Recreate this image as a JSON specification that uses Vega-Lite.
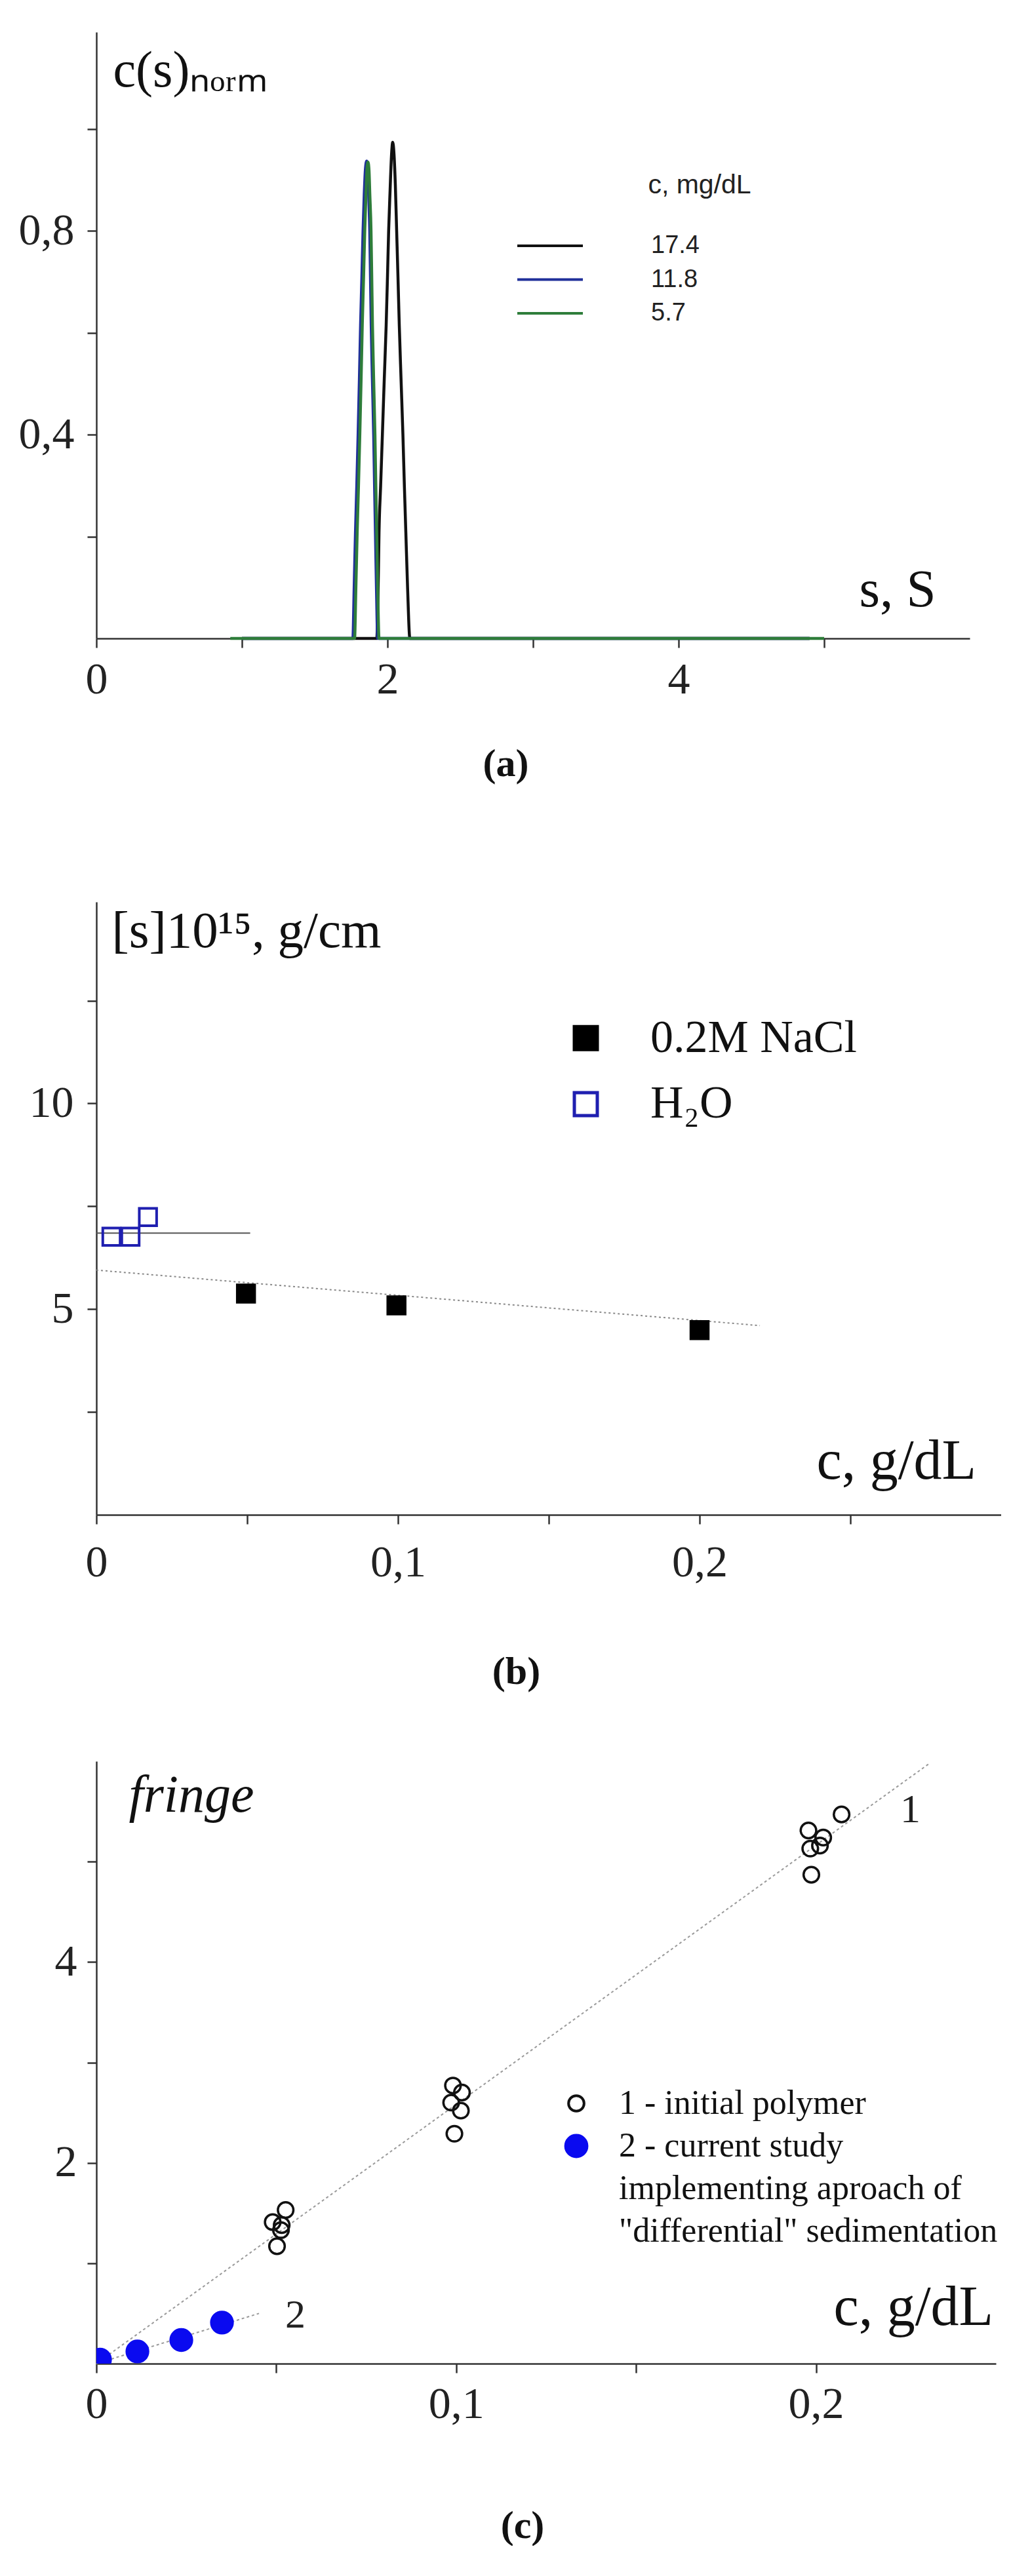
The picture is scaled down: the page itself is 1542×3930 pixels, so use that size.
{
  "$schema": "https://vega.github.io/schema/vega-lite/v6.json",
  "background": "white",
  "padding": {"left": 0, "top": 49, "right": 0, "bottom": 0},
  "spacing": 180,
  "align": "none",
  "resolve": {"scale": {"color": "independent", "fill": "independent", "stroke": "independent", "size": "independent"}, "legend": {"color": "independent", "fill": "independent", "stroke": "independent", "size": "independent"}},
  "config": {
    "view": {"stroke": null},
    "font": "Liberation Serif",
    "style": {"guide-label": {"lineHeight": 65}},
    "axis": {
      "grid": false,
      "domainColor": "#333333",
      "domainWidth": 2.5,
      "tickColor": "#333333",
      "tickWidth": 2.5,
      "tickSize": 14,
      "labelFont": "Liberation Serif",
      "labelFontSize": 68,
      "labelColor": "#222222",
      "labelFlush": false,
      "labelOverlap": false,
      "labelBound": false,
      "titleFont": "Liberation Serif",
      "titleFontWeight": "normal",
      "titleColor": "#111111",
      "titleAngle": 0,
      "titleAlign": "left",
      "titleBaseline": "alphabetic"
    },
    "legend": {"padding": 0, "labelFont": "Liberation Serif", "labelColor": "#111111", "titleFontWeight": "normal", "labelLimit": 2000, "titleLimit": 2000},
    "title": {"font": "Liberation Serif", "fontSize": 60, "fontWeight": "bold", "color": "#111111", "orient": "bottom", "anchor": "middle", "frame": "bounds", "baseline": "top"}
  },
  "vconcat": [
    {
      "width": 1332,
      "height": 925,
      "title": {"text": "(a)", "offset": 66, "dx": 32},
      "data": {"values": [
        {"series": "17.4", "s": 1.0, "v": 0},
        {"series": "17.4", "s": 1.9, "v": 0},
        {"series": "17.4", "s": 1.926, "v": 0},
        {"series": "17.4", "s": 1.935, "v": 0.08},
        {"series": "17.4", "s": 1.942, "v": 0.209},
        {"series": "17.4", "s": 1.953, "v": 0.3},
        {"series": "17.4", "s": 1.965, "v": 0.4},
        {"series": "17.4", "s": 1.978, "v": 0.51},
        {"series": "17.4", "s": 1.991, "v": 0.615},
        {"series": "17.4", "s": 2.0, "v": 0.71},
        {"series": "17.4", "s": 2.008, "v": 0.8},
        {"series": "17.4", "s": 2.018, "v": 0.88},
        {"series": "17.4", "s": 2.027, "v": 0.945},
        {"series": "17.4", "s": 2.036, "v": 0.974},
        {"series": "17.4", "s": 2.045, "v": 0.95},
        {"series": "17.4", "s": 2.054, "v": 0.89},
        {"series": "17.4", "s": 2.063, "v": 0.8},
        {"series": "17.4", "s": 2.072, "v": 0.71},
        {"series": "17.4", "s": 2.081, "v": 0.615},
        {"series": "17.4", "s": 2.093, "v": 0.51},
        {"series": "17.4", "s": 2.106, "v": 0.4},
        {"series": "17.4", "s": 2.116, "v": 0.3},
        {"series": "17.4", "s": 2.126, "v": 0.209},
        {"series": "17.4", "s": 2.138, "v": 0.1},
        {"series": "17.4", "s": 2.154, "v": 0},
        {"series": "17.4", "s": 2.2, "v": 0},
        {"series": "17.4", "s": 4.9, "v": 0},
        {"series": "11.8", "s": 1.0, "v": 0},
        {"series": "11.8", "s": 1.74, "v": 0},
        {"series": "11.8", "s": 1.762, "v": 0},
        {"series": "11.8", "s": 1.771, "v": 0.1},
        {"series": "11.8", "s": 1.78, "v": 0.209},
        {"series": "11.8", "s": 1.789, "v": 0.3},
        {"series": "11.8", "s": 1.798, "v": 0.4},
        {"series": "11.8", "s": 1.807, "v": 0.51},
        {"series": "11.8", "s": 1.815, "v": 0.615},
        {"series": "11.8", "s": 1.824, "v": 0.71},
        {"series": "11.8", "s": 1.832, "v": 0.8},
        {"series": "11.8", "s": 1.84, "v": 0.87},
        {"series": "11.8", "s": 1.848, "v": 0.92},
        {"series": "11.8", "s": 1.857, "v": 0.937},
        {"series": "11.8", "s": 1.866, "v": 0.92},
        {"series": "11.8", "s": 1.871, "v": 0.87},
        {"series": "11.8", "s": 1.878, "v": 0.8},
        {"series": "11.8", "s": 1.883, "v": 0.71},
        {"series": "11.8", "s": 1.888, "v": 0.615},
        {"series": "11.8", "s": 1.896, "v": 0.51},
        {"series": "11.8", "s": 1.905, "v": 0.4},
        {"series": "11.8", "s": 1.911, "v": 0.3},
        {"series": "11.8", "s": 1.917, "v": 0.209},
        {"series": "11.8", "s": 1.924, "v": 0.1},
        {"series": "11.8", "s": 1.933, "v": 0},
        {"series": "11.8", "s": 1.96, "v": 0},
        {"series": "11.8", "s": 4.9, "v": 0},
        {"series": "5.7", "s": 0.92, "v": 0},
        {"series": "5.7", "s": 1.75, "v": 0},
        {"series": "5.7", "s": 1.774, "v": 0},
        {"series": "5.7", "s": 1.783, "v": 0.1},
        {"series": "5.7", "s": 1.792, "v": 0.209},
        {"series": "5.7", "s": 1.801, "v": 0.3},
        {"series": "5.7", "s": 1.81, "v": 0.4},
        {"series": "5.7", "s": 1.819, "v": 0.51},
        {"series": "5.7", "s": 1.827, "v": 0.615},
        {"series": "5.7", "s": 1.836, "v": 0.71},
        {"series": "5.7", "s": 1.844, "v": 0.8},
        {"series": "5.7", "s": 1.852, "v": 0.87},
        {"series": "5.7", "s": 1.859, "v": 0.92},
        {"series": "5.7", "s": 1.866, "v": 0.935},
        {"series": "5.7", "s": 1.873, "v": 0.92},
        {"series": "5.7", "s": 1.879, "v": 0.87},
        {"series": "5.7", "s": 1.887, "v": 0.8},
        {"series": "5.7", "s": 1.892, "v": 0.71},
        {"series": "5.7", "s": 1.897, "v": 0.615},
        {"series": "5.7", "s": 1.905, "v": 0.51},
        {"series": "5.7", "s": 1.914, "v": 0.4},
        {"series": "5.7", "s": 1.92, "v": 0.3},
        {"series": "5.7", "s": 1.926, "v": 0.209},
        {"series": "5.7", "s": 1.933, "v": 0.1},
        {"series": "5.7", "s": 1.942, "v": 0},
        {"series": "5.7", "s": 1.97, "v": 0},
        {"series": "5.7", "s": 5.0, "v": 0}
      ]},
      "encoding": {
        "x": {"field": "s", "type": "quantitative",
          "scale": {"domain": [0, 6], "nice": false, "zero": false},
          "axis": {"values": [0, 1, 2, 3, 4, 5], "labelExpr": "datum.value % 2 == 0 ? datum.label : ''",
            "labelPadding": 15, "title": "s, S", "titleFontSize": 81, "titleX": 1163, "titleY": -50}},
        "y": {"field": "v", "type": "quantitative",
          "scale": {"domain": [0, 1.19], "nice": false, "zero": false},
          "axis": {"values": [0.2, 0.4, 0.6, 0.8, 1.0], "format": ".1f",
            "labelExpr": "datum.value == 0.4 || datum.value == 0.8 ? replace(datum.label, '.', ',') : ''",
            "labelPadding": 20, "minExtent": 147, "title": "c(s)ₙₒᵣₘ", "titleFontSize": 78, "titleX": 25, "titleY": 82}},
        "color": {"field": "series", "type": "nominal",
          "scale": {"domain": ["17.4", "11.8", "5.7"], "range": ["#111111", "#1f2f9a", "#2e7d3a"]},
          "legend": {"orient": "none", "legendX": 673, "legendY": 214, "title": "c, mg/dL",
            "titleFont": "Liberation Sans", "titleFontSize": 41, "titleColor": "#222222", "titleAnchor": "end", "titleAlign": "center", "titlePadding": 52,
            "labelFont": "Liberation Sans", "labelFontSize": 38, "labelColor": "#222222", "labelOffset": 135,
            "symbolType": "M-5,0H5", "symbolSize": 400, "symbolStrokeWidth": 4, "rowPadding": 13.5}}
      },
      "layer": [
        {"transform": [{"filter": {"field": "series", "equal": "17.4"}}], "mark": {"type": "line", "strokeWidth": 4.5, "interpolate": "monotone"}, "encoding": {}},
        {"transform": [{"filter": {"field": "series", "equal": "11.8"}}], "mark": {"type": "line", "strokeWidth": 4.5, "interpolate": "monotone"}, "encoding": {}},
        {"transform": [{"filter": {"field": "series", "equal": "5.7"}}], "mark": {"type": "line", "strokeWidth": 4.5, "interpolate": "monotone"}, "encoding": {}}
      ]
    },
    {
      "align": "none",
      "spacing": 106,
      "resolve": {"scale": {"color": "independent", "fill": "independent", "stroke": "independent", "size": "independent"}, "legend": {"color": "independent", "fill": "independent", "stroke": "independent", "size": "independent"}},
      "vconcat": [
        {
          "width": 1380,
          "height": 935,
          "title": {"text": "(b)", "offset": 104, "dx": 16},
          "encoding": {
            "x": {"field": "c", "type": "quantitative",
              "scale": {"domain": [0, 0.3], "nice": false, "zero": false},
              "axis": {"values": [0, 0.05, 0.1, 0.15, 0.2, 0.25],
                "labelExpr": "datum.value == 0 || datum.value == 0.1 || datum.value == 0.2 ? replace(format(datum.value, '~g'), '.', ',') : ''",
                "labelPadding": 25, "title": "c, g/dL", "titleFontSize": 86, "titleX": 1098, "titleY": -56}},
            "y": {"field": "v", "type": "quantitative",
              "scale": {"domain": [0, 14.9], "nice": false, "zero": false},
              "axis": {"values": [2.5, 5, 7.5, 10, 12.5],
                "labelExpr": "datum.value == 5 || datum.value == 10 ? format(datum.value, 'd') : ''",
                "labelPadding": 21, "minExtent": 131, "title": "[s]10¹⁵, g/cm", "titleFontSize": 79, "titleX": 23, "titleY": 68}}
          },
          "layer": [
            {
              "data": {"values": [{"c": 0, "v": 6.85}, {"c": 0.051, "v": 6.85}]},
              "mark": {"type": "line", "color": "#555555", "strokeWidth": 2},
              "encoding": {}
            },
            {
              "data": {"values": [{"c": 0, "v": 5.95}, {"c": 0.22, "v": 4.6}]},
              "mark": {"type": "line", "color": "#8a8a8a", "strokeWidth": 2, "strokeDash": [3, 4]},
              "encoding": {}
            },
            {
              "data": {"values": [
                {"series": "0.2M NaCl", "c": 0.0496, "v": 5.38},
                {"series": "0.2M NaCl", "c": 0.0995, "v": 5.09},
                {"series": "0.2M NaCl", "c": 0.2, "v": 4.49},
                {"series": "H₂O", "c": 0.005, "v": 6.76},
                {"series": "H₂O", "c": 0.0113, "v": 6.76},
                {"series": "H₂O", "c": 0.0171, "v": 7.24}
              ]},
              "mark": {"type": "point", "shape": "square", "size": 700, "strokeWidth": 4, "opacity": 1},
              "encoding": {
                "fill": {"field": "series", "type": "nominal",
                  "scale": {"domain": ["0.2M NaCl", "H₂O"], "range": ["#000000", "transparent"]},
                  "legend": {"orient": "none", "legendX": 711.5, "legendY": 172.7, "title": null, "labelFontSize": 70, "labelOffset": 63.5, "rowPadding": 30.7, "symbolSize": 1225, "symbolStrokeWidth": 5, "symbolType": "square"}},
                "stroke": {"field": "series", "type": "nominal",
                  "scale": {"domain": ["0.2M NaCl", "H₂O"], "range": ["#000000", "#1f1fb0"]},
                  "legend": {"orient": "none", "legendX": 711.5, "legendY": 172.7, "title": null, "labelFontSize": 70, "labelOffset": 63.5, "rowPadding": 30.7, "symbolSize": 1225, "symbolStrokeWidth": 5, "symbolType": "square"}}
              }
            }
          ]
        },
        {
          "width": 1372,
          "height": 919,
          "title": {"text": "(c)", "offset": 123, "dx": 24},
          "layer": [
            {
              "data": {"values": [{"c": 0, "v": 0}, {"c": 0.2312, "v": 5.97}]},
              "mark": {"type": "line", "color": "#9a9a9a", "strokeWidth": 2, "strokeDash": [4, 4]},
              "encoding": {
                "x": {"field": "c", "type": "quantitative",
                  "scale": {"domain": [0, 0.25], "nice": false, "zero": false},
                  "axis": {"values": [0, 0.05, 0.1, 0.15, 0.2],
                    "labelExpr": "datum.value == 0 || datum.value == 0.1 || datum.value == 0.2 ? replace(format(datum.value, '~g'), '.', ',') : ''",
                    "labelPadding": 14, "title": "c, g/dL", "titleFontSize": 86, "titleX": 1124, "titleY": -60}},
                "y": {"field": "v", "type": "quantitative",
                  "scale": {"domain": [0, 6], "nice": false, "zero": false},
                  "axis": {"values": [1, 2, 3, 4, 5],
                    "labelExpr": "datum.value == 2 || datum.value == 4 ? format(datum.value, 'd') : ''",
                    "labelPadding": 16, "minExtent": 123, "title": "fringe", "titleFontStyle": "italic", "titleFontSize": 80, "titleX": 49, "titleY": 76}}
              }
            },
            {
              "data": {"values": [{"c": 0, "v": 0}, {"c": 0.0452, "v": 0.5}]},
              "mark": {"type": "line", "color": "#9a9a9a", "strokeWidth": 2, "strokeDash": [4, 4]},
              "encoding": {
                "x": {"field": "c", "type": "quantitative", "scale": {"domain": [0, 0.25], "nice": false, "zero": false}},
                "y": {"field": "v", "type": "quantitative", "scale": {"domain": [0, 6], "nice": false, "zero": false}}
              }
            },
            {
              "data": {"values": [{"label": "1"}]},
              "mark": {"type": "text", "font": "Liberation Serif", "fontSize": 62, "fill": "#222222", "baseline": "middle", "align": "center"},
              "encoding": {
                "x": {"datum": 0.2262, "type": "quantitative", "scale": {"domain": [0, 0.25], "nice": false, "zero": false}},
                "y": {"datum": 5.52, "type": "quantitative", "scale": {"domain": [0, 6], "nice": false, "zero": false}},
                "text": {"field": "label", "type": "nominal"}
              }
            },
            {
              "data": {"values": [{"label": "2"}]},
              "mark": {"type": "text", "font": "Liberation Serif", "fontSize": 62, "fill": "#222222", "baseline": "middle", "align": "center"},
              "encoding": {
                "x": {"datum": 0.0553, "type": "quantitative", "scale": {"domain": [0, 0.25], "nice": false, "zero": false}},
                "y": {"datum": 0.48, "type": "quantitative", "scale": {"domain": [0, 6], "nice": false, "zero": false}},
                "text": {"field": "label", "type": "nominal"}
              }
            },
            {
              "data": {"values": [
                {"series": "1 - initial polymer", "c": 0.0526, "v": 1.53},
                {"series": "1 - initial polymer", "c": 0.049, "v": 1.41},
                {"series": "1 - initial polymer", "c": 0.0515, "v": 1.38},
                {"series": "1 - initial polymer", "c": 0.0513, "v": 1.33},
                {"series": "1 - initial polymer", "c": 0.0502, "v": 1.17},
                {"series": "1 - initial polymer", "c": 0.0991, "v": 2.77},
                {"series": "1 - initial polymer", "c": 0.1016, "v": 2.7},
                {"series": "1 - initial polymer", "c": 0.0986, "v": 2.6},
                {"series": "1 - initial polymer", "c": 0.1013, "v": 2.52},
                {"series": "1 - initial polymer", "c": 0.0995, "v": 2.29},
                {"series": "1 - initial polymer", "c": 0.2071, "v": 5.47},
                {"series": "1 - initial polymer", "c": 0.1979, "v": 5.31},
                {"series": "1 - initial polymer", "c": 0.202, "v": 5.24},
                {"series": "1 - initial polymer", "c": 0.2011, "v": 5.16},
                {"series": "1 - initial polymer", "c": 0.1984, "v": 5.13},
                {"series": "1 - initial polymer", "c": 0.1987, "v": 4.87},
                {"series": "2 - current study", "c": 0.001, "v": 0.04},
                {"series": "2 - current study", "c": 0.0114, "v": 0.121},
                {"series": "2 - current study", "c": 0.0236, "v": 0.235},
                {"series": "2 - current study", "c": 0.0349, "v": 0.409}
              ]},
              "mark": {"type": "point", "shape": "circle", "strokeWidth": 3.5, "opacity": 1, "clip": true},
              "encoding": {
                "x": {"field": "c", "type": "quantitative", "scale": {"domain": [0, 0.25], "nice": false, "zero": false}},
                "y": {"field": "v", "type": "quantitative", "scale": {"domain": [0, 6], "nice": false, "zero": false}},
                "fill": {"field": "series", "type": "nominal",
                  "scale": {"domain": ["1 - initial polymer", "2 - current study"], "range": ["transparent", "#0a0af0"]},
                  "legend": {"orient": "none", "legendX": 706, "legendY": 496, "title": null, "labelFontSize": 52, "labelOffset": 39, "rowPadding": 13, "symbolStrokeWidth": 4,
                    "labelExpr": "datum.label == '2 - current study' ? ['2 - current study', 'implementing aproach of', '\"differential\" sedimentation'] : datum.label"}},
                "stroke": {"field": "series", "type": "nominal",
                  "scale": {"domain": ["1 - initial polymer", "2 - current study"], "range": ["#111111", "#0a0af0"]},
                  "legend": {"orient": "none", "legendX": 706, "legendY": 496, "title": null, "labelFontSize": 52, "labelOffset": 39, "rowPadding": 13, "symbolStrokeWidth": 4,
                    "labelExpr": "datum.label == '2 - current study' ? ['2 - current study', 'implementing aproach of', '\"differential\" sedimentation'] : datum.label"}},
                "size": {"field": "series", "type": "nominal",
                  "scale": {"domain": ["1 - initial polymer", "2 - current study"], "range": [560, 1075]},
                  "legend": {"orient": "none", "legendX": 706, "legendY": 496, "title": null, "labelFontSize": 52, "labelOffset": 39, "rowPadding": 13, "symbolStrokeWidth": 4,
                    "labelExpr": "datum.label == '2 - current study' ? ['2 - current study', 'implementing aproach of', '\"differential\" sedimentation'] : datum.label"}}
              }
            }
          ]
        }
      ]
    }
  ]
}
